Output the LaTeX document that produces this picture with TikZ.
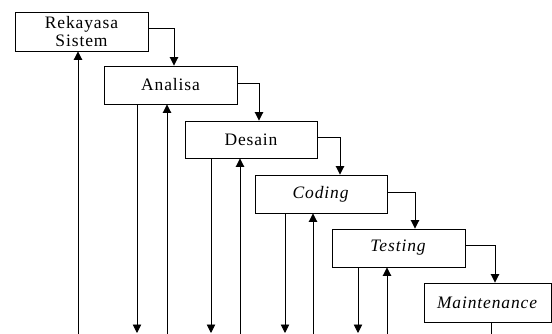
\documentclass[tikz,border=0pt]{standalone}
\usepackage{fontspec}
\setmainfont[LetterSpace=5]{Liberation Serif}
\usepackage{tikz}
\usetikzlibrary{arrows.meta}

\begin{document}
\begin{tikzpicture}[x=1pt, y=-1pt, line width=0.9pt,
        >={Triangle[length=8.5pt,width=8.5pt]},
        tahap/.style={draw, rectangle, inner sep=0pt, align=center,
            minimum width=133pt, minimum height=38pt,
            font=\fontsize{17.5}{18}\selectfont}]
    \useasboundingbox (0,0) rectangle (552,334);

    % tahapan waterfall
    \node[tahap, minimum height=39pt] (rs) at (81.5,31.5) {Rekayasa\\Sistem};
    \node[tahap] (an) at (170.5,85) {Analisa};
    \node[tahap, minimum width=132pt, minimum height=37pt] (de) at (251,139.5) {Desain};
    \node[tahap, minimum width=132pt] (co) at (321,194) {\textit{Coding}};
    \node[tahap] (te) at (398.5,248) {\textit{Testing}};
    \node[tahap, minimum width=127pt, minimum height=39pt] (ma) at (487.5,302.5) {\textit{Maintenance}};

    % panah ke tahap berikutnya
    \foreach \a/\nm/\dx/\dy in {rs/an/3.5/3.5, an/de/8/2, de/co/19/2.5, co/te/16.5/2, te/ma/7.5/3} {
            \draw[->] ([yshift=\dy pt]\a.east) -| ([xshift=\dx pt]\nm.north);
        }

    % panah turun ke bawah
    \foreach \nm/\x in {an/137, de/211, co/285, te/358} {
            \coordinate (d\nm) at (\x,333);
            \draw[->] (\nm.south -| d\nm) -- (d\nm);
        }
    \coordinate (dma) at (491,334);
    \draw (ma.south -| dma) -- (dma);

    % panah naik (umpan balik)
    \foreach \nm/\x in {rs/78, an/167, de/240, co/313, te/387} {
            \coordinate (u\nm) at (\x,334);
            \draw[->] (u\nm) -- (u\nm |- \nm.south);
        }
\end{tikzpicture}
\end{document}
